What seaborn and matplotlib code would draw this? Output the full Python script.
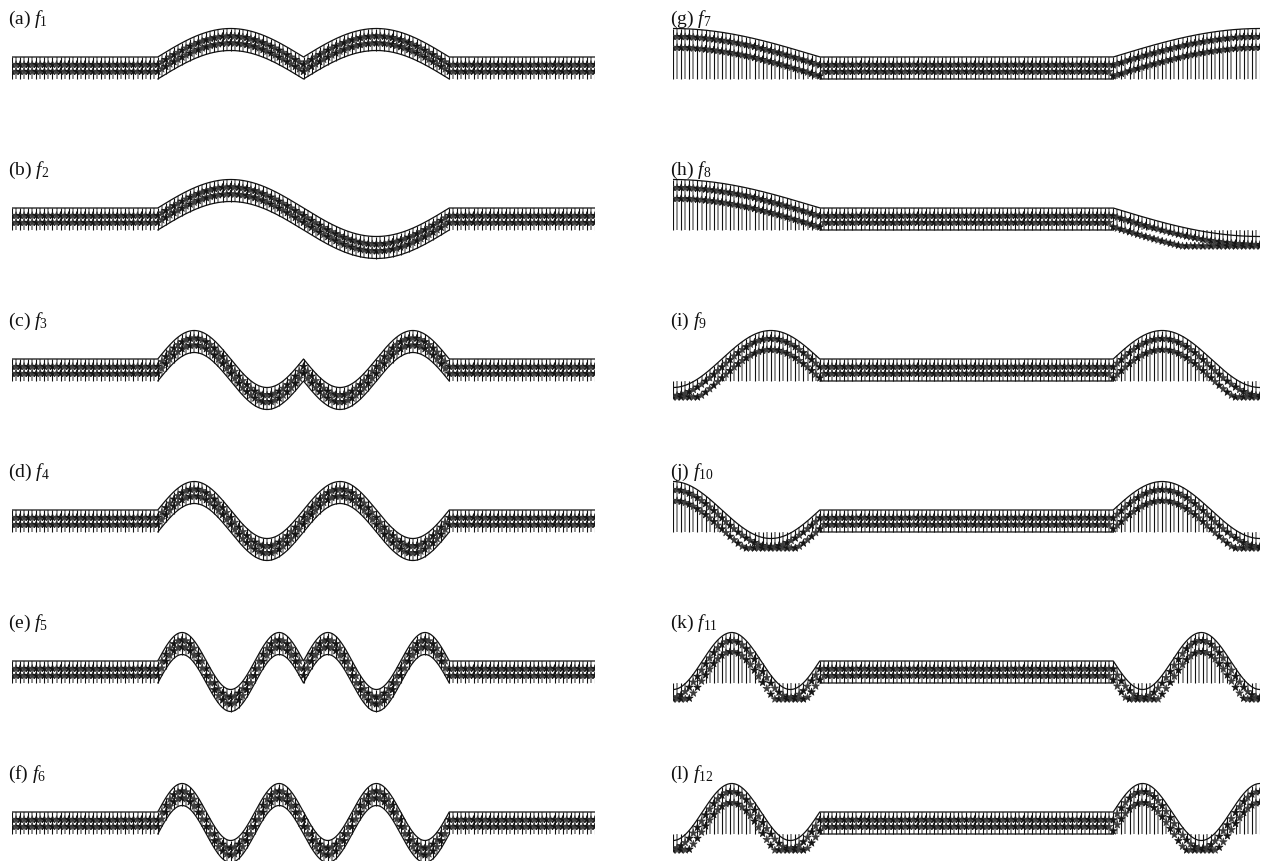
import numpy as np
import matplotlib
matplotlib.use("Agg")
import matplotlib.pyplot as plt
import seaborn as sns

sns.set_theme(style="white")
plt.rcParams["font.family"] = ["Liberation Serif", "DejaVu Serif"]
plt.rcParams["mathtext.fontset"] = "custom"
plt.rcParams["mathtext.rm"] = "Liberation Serif"
plt.rcParams["mathtext.it"] = "Liberation Serif:italic"

# ---------------- data: keypoints (position along panel, level) ----------------
panel_labels = ["(a)", "(b)", "(c)", "(d)", "(e)", "(f)",
                "(g)", "(h)", "(i)", "(j)", "(k)", "(l)"]
func_names = ["f_{1}", "f_{2}", "f_{3}", "f_{4}", "f_{5}", "f_{6}",
              "f_{7}", "f_{8}", "f_{9}", "f_{10}", "f_{11}", "f_{12}"]

f1_x = [0, 0.25, 0.375, 0.5, 0.625, 0.75, 1]
f1_y = [0, 0, 1, 0, 1, 0, 0]
f2_x = [0, 0.25, 0.375, 0.5, 0.625, 0.75, 1]
f2_y = [0, 0, 1, 0, -1, 0, 0]
f3_x = [0, 0.25, 0.3125, 0.375, 0.4375, 0.5, 0.5625, 0.625, 0.6875, 0.75, 1]
f3_y = [0, 0, 1, 0, -1, 0, -1, 0, 1, 0, 0]
f4_x = [0, 0.25, 0.3125, 0.375, 0.4375, 0.5, 0.5625, 0.625, 0.6875, 0.75, 1]
f4_y = [0, 0, 1, 0, -1, 0, 1, 0, -1, 0, 0]
f5_x = [0, 0.25, 0.2917, 0.3333, 0.375, 0.4167, 0.4583, 0.5,
        0.5417, 0.5833, 0.625, 0.6667, 0.7083, 0.75, 1]
f5_y = [0, 0, 1, 0, -1, 0, 1, 0, 1, 0, -1, 0, 1, 0, 0]
f6_x = list(f5_x)
f6_y = [0, 0, 1, 0, -1, 0, 1, 0, -1, 0, 1, 0, -1, 0, 0]
f7_x = [0, 0.25, 0.75, 1]
f7_y = [1, 0, 0, 1]
f8_x = [0, 0.25, 0.75, 1]
f8_y = [1, 0, 0, -1]
f9_x = [0, 0.0833, 0.1667, 0.25, 0.75, 0.8333, 0.9167, 1]
f9_y = [-1, 0, 1, 0, 0, 1, 0, -1]
f10_x = list(f9_x)
f10_y = [1, 0, -1, 0, 0, 1, 0, -1]
f11_x = [0, 0.05, 0.1, 0.15, 0.2, 0.25, 0.75, 0.8, 0.85, 0.9, 0.95, 1]
f11_y = [-1, 0, 1, 0, -1, 0, 0, -1, 0, 1, 0, -1]
f12_x = list(f11_x)
f12_y = [-1, 0, 1, 0, -1, 0, 0, 1, 0, -1, 0, 1]

keys_x = [f1_x, f2_x, f3_x, f4_x, f5_x, f6_x, f7_x, f8_x, f9_x, f10_x, f11_x, f12_x]
keys_y = [f1_y, f2_y, f3_y, f4_y, f5_y, f6_y, f7_y, f8_y, f9_y, f10_y, f11_y, f12_y]

# ---------------- rendering helpers ----------------
W, H = 1272, 862
fig = plt.figure(figsize=(W / 100, H / 100), dpi=100)
fig.patch.set_facecolor("white")

AMP = 28.5            # pixels per unit level
HALF = 11 / AMP       # half band width
STAR = 3.5 / AMP      # star offset in straight parts


def curve(xk, yk, x):
    """Smooth wave-shaped path through keypoints (extrema have zero slope)."""
    xk = np.asarray(xk, float)
    yk = np.asarray(yk, float)
    out = np.zeros_like(x)
    for i in range(len(xk) - 1):
        a, b = xk[i], xk[i + 1]
        m = (x >= a) & (x <= b)
        s = (x[m] - a) / (b - a)
        v0, v1 = yk[i], yk[i + 1]
        e0, e1 = v0 != 0, v1 != 0
        if e0 and e1:
            g = (1 - np.cos(np.pi * s)) / 2
        elif (not e0) and e1:
            g = np.sin(np.pi * s / 2)
        elif e0 and not e1:
            g = 1 - np.cos(np.pi * s / 2)
        else:
            g = s
        out[m] = v0 + (v1 - v0) * g
    return out


xs = np.linspace(0, 1, 145)      # sample positions for ticks and stars
xf = np.linspace(0, 1, 2401)     # fine grid for outlines
centers = [69, 220, 371, 522, 673, 824]
AX_H = 150

col_left = {"x0": 12, "x1": 595, "lab": 8}
col_right = {"x0": 673, "x1": 1260, "lab": 670}

idx = np.arange(len(xs))
tick_cols = np.where(idx % 2 == 0, "#111111", "#8a8a8a")
tick_lw = np.where(idx % 2 == 0, 0.8, 1.3)
star_cols = np.where(idx % 2 == 0, "#151515", "#3c3c3c")

for k in range(12):
    col = col_left if k < 6 else col_right
    cy = centers[k % 6]
    ax = fig.add_axes([col["x0"] / W, 1 - (cy + AX_H / 2) / H,
                       (col["x1"] - col["x0"]) / W, AX_H / H])
    ax.set_xlim(0, 1)
    ax.set_ylim(-AX_H / 2 / AMP, AX_H / 2 / AMP)
    ax.axis("off")
    ax.patch.set_alpha(0)

    ys = curve(keys_x[k], keys_y[k], xs)
    yf = curve(keys_x[k], keys_y[k], xf)
    if k < 6:
        wave_f = (xf >= 0.25) & (xf <= 0.75)
        lo = ys - HALF
        hi = ys + HALF
        s1 = ys + STAR
        s2 = ys - STAR
    else:
        wave_s = (xs <= 0.25) | (xs >= 0.75)
        top = ys + HALF
        s1 = np.where(wave_s, ys + 0.105, ys + STAR)
        s2 = np.where(wave_s, np.maximum(ys - 0.28, -0.95), ys - STAR)
        lo = np.where(wave_s, np.minimum(-HALF, s1), -HALF)
        hi = np.where(wave_s, np.maximum(-HALF, top), HALF)

    ax.vlines(xs, lo, hi, colors=list(tick_cols), linewidths=list(tick_lw),
              zorder=1)

    # outlines
    sns.lineplot(x=xf, y=yf + HALF, ax=ax, color="#111111", lw=0.9,
                 estimator=None, sort=False, zorder=3)
    if k < 6:
        sns.lineplot(x=xf[wave_f], y=yf[wave_f] - HALF, ax=ax,
                     color="#111111", lw=0.9, estimator=None, sort=False,
                     zorder=3)
    else:
        flat = (xf >= 0.25) & (xf <= 0.75)
        sns.lineplot(x=xf[flat], y=yf[flat] - HALF, ax=ax, color="#111111",
                     lw=0.9, estimator=None, sort=False, zorder=3)

    # star rows
    for sy in (s1, s2):
        sns.scatterplot(x=xs, y=sy, ax=ax, marker="*", s=32, c=list(star_cols),
                        edgecolor=list(star_cols), linewidth=0.5, zorder=4,
                        legend=False)

    fig.text(col["lab"] / W, 1 - (cy - 50) / H,
             panel_labels[k] + r" $" + func_names[k] + "$",
             ha="left", va="center", fontsize=14, color="#111111")

fig.savefig("out.png", dpi=100, facecolor="white")
